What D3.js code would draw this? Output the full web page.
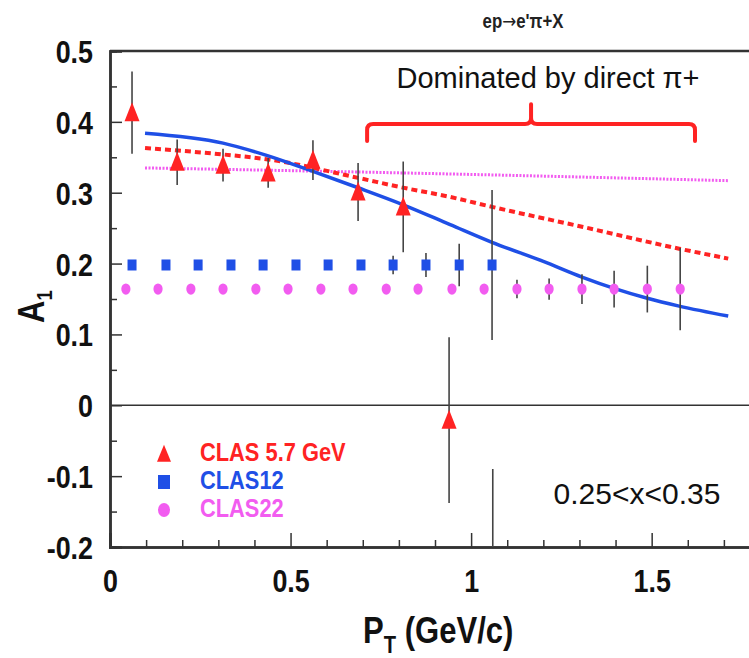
<!DOCTYPE html>
<html>
<head>
<meta charset="utf-8">
<script src="https://cdn.jsdelivr.net/npm/d3@7"></script>
<style>
  body { margin: 0; background: #fff; }
  svg { display: block; }
  .hb { font-family: "Liberation Sans", Arial, sans-serif; font-weight: bold; }
  .hr { font-family: "Liberation Sans", Arial, sans-serif; }
</style>
</head>
<body>
<div id="chart"></div>
<script>
// CLAS 5.7 GeV (red triangles)
const pt57 = [0.061, 0.186, 0.313, 0.438, 0.562, 0.687, 0.812, 0.939, 1.06];
const a57 = [0.413, 0.343, 0.339, 0.328, 0.346, 0.301, 0.280, -0.021, -0.35];
const e57 = [0.058, 0.032, 0.023, 0.021, 0.028, 0.041, 0.064, 0.117, 0.26];

// CLAS12 projection (blue squares)
const pt12 = [0.061, 0.155, 0.244, 0.335, 0.424, 0.515, 0.604, 0.695, 0.784, 0.875, 0.967, 1.058];
const a12 = [0.198, 0.198, 0.198, 0.198, 0.198, 0.198, 0.198, 0.198, 0.198, 0.198, 0.198, 0.198];
const e12 = [0.004, 0.004, 0.004, 0.004, 0.004, 0.005, 0.005, 0.006, 0.013, 0.017, 0.030, 0.106];

// CLAS22 projection (pink circles)
const pt22 = [0.044, 0.133, 0.224, 0.313, 0.404, 0.493, 0.584, 0.673, 0.765, 0.853, 0.947, 1.036, 1.127, 1.216, 1.307, 1.396, 1.488, 1.579];
const a22 = [0.164, 0.164, 0.164, 0.164, 0.164, 0.164, 0.164, 0.164, 0.164, 0.164, 0.164, 0.164, 0.164, 0.164, 0.164, 0.164, 0.164, 0.164];
const e22 = [0.003, 0.003, 0.003, 0.003, 0.003, 0.003, 0.003, 0.003, 0.003, 0.004, 0.005, 0.007, 0.013, 0.015, 0.021, 0.026, 0.033, 0.058];

// model curves
const curveBlueX = [0.097, 0.313, 0.438, 0.562, 0.687, 0.812, 0.942, 1.058, 1.2, 1.307, 1.396, 1.488, 1.576, 1.712];
const curveBlueY = [0.384, 0.370, 0.352, 0.330, 0.307, 0.283, 0.255, 0.230, 0.203, 0.181, 0.165, 0.151, 0.140, 0.126];
const curveRedX = [0.097, 0.313, 0.438, 0.687, 0.803, 0.942, 1.058, 1.307, 1.576, 1.712];
const curveRedY = [0.363, 0.354, 0.347, 0.321, 0.308, 0.294, 0.280, 0.252, 0.221, 0.207];
const curvePinkX = [0.097, 0.803, 1.712];
const curvePinkY = [0.335, 0.328, 0.317];

const xMajor = [0, 0.5, 1, 1.5];
const xMinor = [0.1, 0.2, 0.3, 0.4, 0.6, 0.7, 0.8, 0.9, 1.1, 1.2, 1.3, 1.4, 1.6, 1.7];
const yMajor = [-0.2, -0.1, 0, 0.1, 0.2, 0.3, 0.4, 0.5];
const yMinor = [-0.15, -0.05, 0.05, 0.15, 0.25, 0.35, 0.45];

const legendNames = ["CLAS 5.7 GeV", "CLAS12", "CLAS22"];
const bracketRange = [0.712, 1.62];

const width = 749, height = 658;
const red = "#ff2323", blue = "#1f4fe6", pink = "#f25cf0";
const sq = 0.84; // horizontal squeeze, the original font is a narrow Helvetica

const svg = d3.select("#chart").append("svg")
  .attr("width", width)
  .attr("height", height);

const x = d3.scaleLinear().domain([0, 1.8]).range([110, 760]);
const y = d3.scaleLinear().domain([-0.2, 0.5]).range([547, 51]);

svg.append("defs").append("clipPath").attr("id", "plot")
  .append("rect").attr("x", 110).attr("y", 51).attr("width", 650).attr("height", 496);

// narrow text helper
function label(px, py, str, size, cls, anchor, fill) {
  return svg.append("g").attr("transform", "translate(" + px + "," + py + ")")
    .append("text").attr("class", cls).attr("transform", "scale(" + sq + ",1)")
    .attr("text-anchor", anchor).attr("font-size", size).attr("fill", fill).text(str);
}

// frame
svg.append("line").attr("x1", x(0)).attr("x2", x(1.8)).attr("y1", y(0.5)).attr("y2", y(0.5))
  .attr("stroke", "#333").attr("stroke-width", 2.5);
svg.append("line").attr("x1", x(0)).attr("x2", x(1.8)).attr("y1", y(0)).attr("y2", y(0))
  .attr("stroke", "#333").attr("stroke-width", 1.5);

// axes
const fmt = d => String(d);
const yAxis = svg.append("g").attr("transform", "translate(" + x(0) + ",0)")
  .call(d3.axisLeft(y).tickValues(yMajor).tickSize(-12).tickPadding(17 / sq).tickFormat(fmt));
svg.append("g").attr("transform", "translate(" + x(0) + ",0)")
  .call(d3.axisLeft(y).tickValues(yMinor).tickSize(-7).tickFormat(""));
const xAxis = svg.append("g").attr("transform", "translate(0," + y(-0.2) + ")")
  .call(d3.axisBottom(x).tickValues(xMajor).tickSize(-14).tickPadding(22).tickFormat(fmt));
svg.append("g").attr("transform", "translate(0," + y(-0.2) + ")")
  .call(d3.axisBottom(x).tickValues(xMinor).tickSize(-7).tickFormat(""));

svg.selectAll(".domain").attr("stroke", "#333").attr("stroke-width", 2.5);
svg.selectAll(".tick line").attr("stroke", "#333").attr("stroke-width", 1.5);
svg.selectAll(".tick text").attr("class", "hb").attr("font-size", 32).attr("fill", "#111")
  .attr("transform", "scale(" + sq + ",1)");
yAxis.selectAll(".tick text").attr("dy", "0.36em");

// axis titles
const xt = label(363, 643, "", 37, "hb", "start", "#111");
xt.append("tspan").text("P");
xt.append("tspan").attr("font-size", 24).attr("dy", 10).text("T");
xt.append("tspan").attr("dy", -10).text(" (GeV/c)");

const yt = svg.append("g").attr("transform", "translate(44,323) rotate(-90)")
  .append("text").attr("class", "hb").attr("transform", "scale(" + sq + ",1)")
  .attr("font-size", 37).attr("fill", "#111");
yt.append("tspan").text("A");
yt.append("tspan").attr("font-size", 22).attr("dy", 8).text("1");

// title and annotations
const tt = label(523, 28, "", 20, "hb", "middle", "#222");
tt.append("tspan").text("ep");
tt.append("tspan").attr("font-family", "DejaVu Sans").attr("font-weight", "normal").text("\u2192");
tt.append("tspan").text("e'\u03c0+X");

svg.append("text").attr("class", "hr").attr("x", 548).attr("y", 88).attr("text-anchor", "middle")
  .attr("font-size", 29).attr("fill", "#111")
  .text("Dominated by direct \u03c0+");

svg.append("text").attr("class", "hr").attr("x", 637).attr("y", 504).attr("text-anchor", "middle")
  .attr("font-size", 30).attr("fill", "#111")
  .text("0.25<x<0.35");

// bracket
const bx0 = x(bracketRange[0]), bx1 = x(bracketRange[1]), bm = x((bracketRange[0] + bracketRange[1]) / 2);
const by = y(0.397), bend = y(0.373), bpeak = y(0.425), r = 6;
const bp = d3.path();
bp.moveTo(bx0, bend); bp.lineTo(bx0, by + r); bp.quadraticCurveTo(bx0, by, bx0 + r, by);
bp.lineTo(bm - r, by); bp.quadraticCurveTo(bm, by, bm, by - r); bp.lineTo(bm, bpeak);
bp.moveTo(bm, by - r); bp.quadraticCurveTo(bm, by, bm + r, by);
bp.lineTo(bx1 - r, by); bp.quadraticCurveTo(bx1, by, bx1, by + r); bp.lineTo(bx1, bend);
svg.append("path").attr("d", bp.toString()).attr("fill", "none")
  .attr("stroke", red).attr("stroke-width", 4).attr("stroke-linecap", "round");

// model curves
const plot = svg.append("g").attr("clip-path", "url(#plot)");
const line = d3.line().x(d => x(d[0])).y(d => y(d[1])).curve(d3.curveMonotoneX);
plot.append("path").attr("d", line(d3.zip(curvePinkX, curvePinkY))).attr("fill", "none")
  .attr("stroke", pink).attr("stroke-width", 3).attr("stroke-dasharray", "2,1.5");
plot.append("path").attr("d", line(d3.zip(curveRedX, curveRedY))).attr("fill", "none")
  .attr("stroke", red).attr("stroke-width", 4).attr("stroke-dasharray", "6,4");
plot.append("path").attr("d", line(d3.zip(curveBlueX, curveBlueY))).attr("fill", "none")
  .attr("stroke", blue).attr("stroke-width", 3.5);

// data with error bars
function errBars(xs, ys, es) {
  plot.append("g").selectAll("line").data(d3.range(xs.length)).join("line")
    .attr("x1", i => x(xs[i])).attr("x2", i => x(xs[i]))
    .attr("y1", i => y(ys[i] + es[i])).attr("y2", i => y(ys[i] - es[i]))
    .attr("stroke", "#444").attr("stroke-width", 1.6);
}
errBars(pt22, a22, e22);
errBars(pt12, a12, e12);
errBars(pt57, a57, e57);

plot.append("g").selectAll("ellipse").data(d3.range(pt22.length)).join("ellipse")
  .attr("cx", i => x(pt22[i])).attr("cy", i => y(a22[i]))
  .attr("rx", 4.6).attr("ry", 5.6).attr("fill", pink);

plot.append("g").selectAll("rect").data(d3.range(pt12.length)).join("rect")
  .attr("x", i => x(pt12[i]) - 4.5).attr("y", i => y(a12[i]) - 5.5)
  .attr("width", 9).attr("height", 11).attr("fill", blue);

function tri(cx, cy, w, h) {
  return "M" + cx + "," + (cy - h * 0.55) + "L" + (cx + w / 2) + "," + (cy + h * 0.45) +
    "L" + (cx - w / 2) + "," + (cy + h * 0.45) + "Z";
}
plot.append("g").selectAll("path").data(d3.range(pt57.length)).join("path")
  .attr("d", i => tri(x(pt57[i]), y(a57[i]), 15, 19)).attr("fill", red);

// legend
const legColors = [red, blue, pink];
const leg = svg.append("g");
legendNames.forEach(function (name, i) {
  const cy = 454 + i * 28;
  if (i === 0) leg.append("path").attr("d", tri(164, cy, 14, 17)).attr("fill", red);
  if (i === 1) leg.append("rect").attr("x", 158).attr("y", cy - 7).attr("width", 12).attr("height", 14).attr("fill", blue);
  if (i === 2) leg.append("ellipse").attr("cx", 164).attr("cy", cy).attr("rx", 6).attr("ry", 7).attr("fill", pink);
  label(200, cy + 7, name, 26, "hb", "start", legColors[i]);
});
</script>
</body>
</html>
